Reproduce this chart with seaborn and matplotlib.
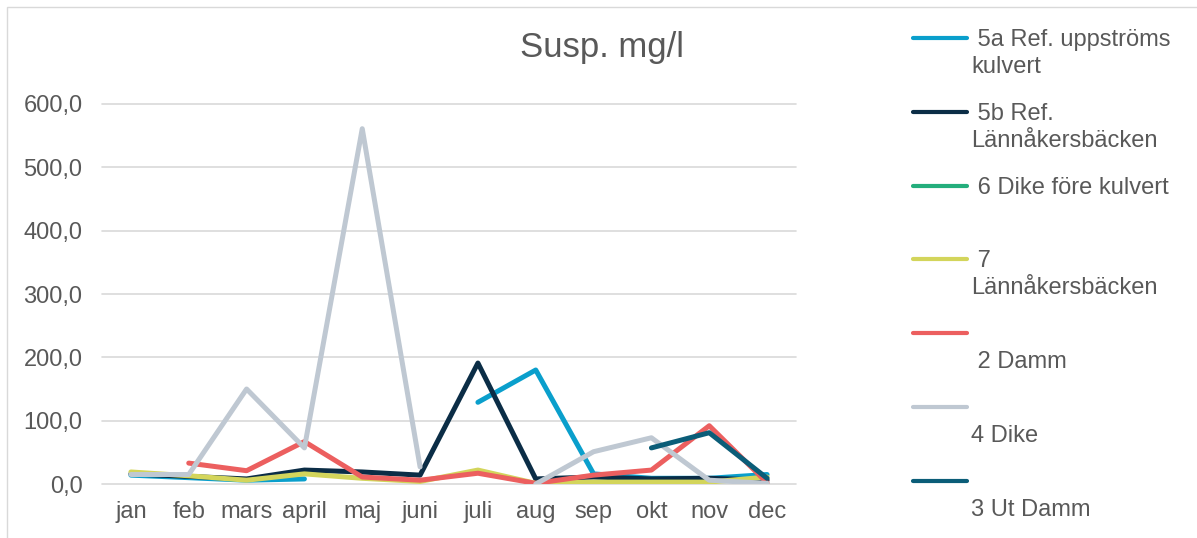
import numpy as np
import pandas as pd
import matplotlib
matplotlib.use('Agg')
import matplotlib.pyplot as plt
import seaborn as sns
from matplotlib.lines import Line2D
from matplotlib.patches import Rectangle
from matplotlib.ticker import FuncFormatter

sns.set_style('white')
plt.rcParams['font.family'] = ['Liberation Sans', 'DejaVu Sans']

nan = np.nan

# Data
months = ['jan', 'feb', 'mars', 'april', 'maj', 'juni',
          'juli', 'aug', 'sep', 'okt', 'nov', 'dec']
s5a = [14, 10, 6, 8, nan, nan, 129, 180, 16, 9, 9, 15]
s5b = [16, 12, 8, 22, 19, 14, 191, 8, 11, 8, 9, 6]
s6 = [nan] * 12
s7 = [19, 13, 6, 16, 9, 4, 22, 1, 3, 3, 3, 11]
s2 = [nan, 33, 21, 67, 11, 6, 17, 1, 14, 22, 92, 2]
s4 = [15, 15, 150, 57, 561, 27, nan, 0, 51, 73, 6, 1]
s3 = [nan, nan, nan, nan, nan, nan, nan, nan, nan, 57, 81, 9]

series_names = ['5a', '5b', '6', '7', '2', '4', '3']
series_values = [s5a, s5b, s6, s7, s2, s4, s3]
legend_labels = [' 5a Ref. uppströms\nkulvert', ' 5b Ref.\nLännåkersbäcken',
                 ' 6 Dike före kulvert', ' 7\nLännåkersbäcken',
                 '\n 2 Damm', '\n4 Dike', '\n3 Ut Damm']
colors = ['#0A9FCC', '#0B2D46', '#24AE7C', '#D3D55B', '#EC5F5F', '#BFC8D2', '#0B5D78']

# long format, split into contiguous segments so gaps stay gaps
rows = []
for name, vals in zip(series_names, series_values):
    seg = 0
    prev_nan = True
    for i, v in enumerate(vals):
        if np.isnan(v):
            prev_nan = True
            continue
        if prev_nan:
            seg += 1
        prev_nan = False
        rows.append({'serie': name, 'månad': i, 'värde': v, 'del': f'{name}-{seg}'})
df = pd.DataFrame(rows)

palette = dict(zip(series_names, colors))
hue_order = [n for n in series_names if n in set(df['serie'])]

W, H = 1197, 538
fig = plt.figure(figsize=(W / 100, H / 100), dpi=100)
ax = fig.add_axes([102 / W, 54 / H, 694 / W, 380 / H])

sns.lineplot(data=df, x='månad', y='värde', hue='serie', units='del',
             estimator=None, palette=palette, hue_order=hue_order,
             lw=3.6, legend=False, ax=ax,
             solid_capstyle='round', solid_joinstyle='round')

ax.set_xlim(-0.5, 11.5)
ax.set_ylim(0, 600)
ax.set_yticks(range(0, 700, 100))
ax.yaxis.set_major_formatter(FuncFormatter(lambda v, p: f'{v:.1f}'.replace('.', ',')))
ax.set_xticks(range(12))
ax.set_xticklabels(months)
ax.set_xlabel('')
ax.set_ylabel('')
ax.tick_params(axis='both', length=0, labelsize=17, colors='#595959')
ax.tick_params(axis='x', pad=12)
ax.tick_params(axis='y', pad=14)
ax.grid(axis='y', color='#D9D9D9', lw=1.2)
ax.set_axisbelow(True)
for sp in ax.spines.values():
    sp.set_visible(False)
for gl in ax.get_ygridlines():
    gl.set_clip_on(False)

# Title
fig.text(602 / W, 1 - 47 / H, 'Susp. mg/l', ha='center', va='center',
         fontsize=25, color='#595959')

# Legend drawn by hand (Excel style, handle at first text line)
for i, (lab, col) in enumerate(zip(legend_labels, colors)):
    hy = 38 + 73.8 * i
    fig.add_artist(Line2D([913 / W, 967 / W], [1 - hy / H] * 2, color=col,
                          lw=3, solid_capstyle='round'))
    for j, line in enumerate(lab.split('\n')):
        fig.text(971 / W, 1 - (hy + j * 27 + 8) / H, line, va='baseline',
                 fontsize=17, color='#595959')

# Chart area border
fig.add_artist(Rectangle((7 / W, -0.1), 1.5, 1.1 - 7 / H, transform=fig.transFigure,
                         fill=False, ec='#D9D9D9', lw=1))

fig.savefig('out.png', dpi=100)
